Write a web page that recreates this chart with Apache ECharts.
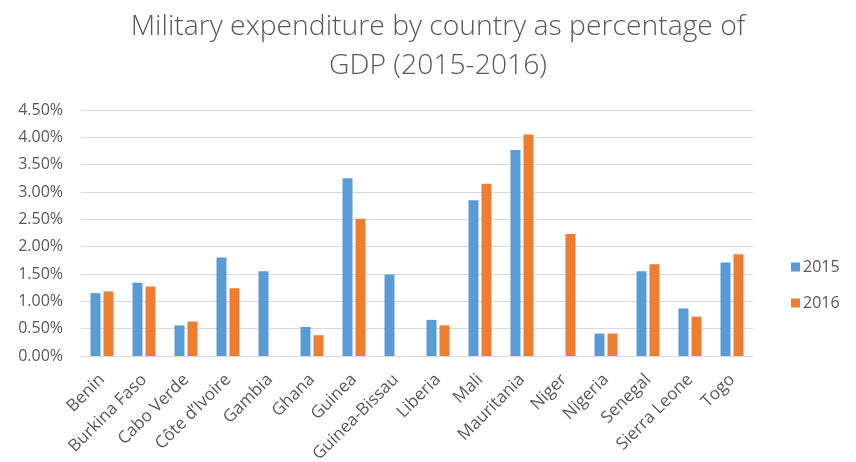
<!DOCTYPE html>
<html>
<head>
<meta charset="utf-8">
<script src="https://cdn.jsdelivr.net/npm/echarts@6/dist/echarts.min.js"></script>
<style>html,body{margin:0;padding:0;background:#fff}#c{width:856px;height:462px}</style>
</head>
<body>
<div id="c"></div>
<script>
const categories = ["Benin","Burkina Faso","Cabo Verde","Côte d’Ivoire","Gambia","Ghana","Guinea","Guinea-Bissau","Liberia","Mali","Mauritania","Niger","Nigeria","Senegal","Sierra Leone","Togo"];
const values2015 = [1.15,1.34,0.56,1.80,1.55,0.53,3.25,1.49,0.66,2.85,3.77,null,0.41,1.55,0.87,1.71];
const values2016 = [1.18,1.27,0.63,1.24,null,0.38,2.51,null,0.56,3.15,4.05,2.23,0.41,1.68,0.72,1.86];
const yTicks = [0,0.5,1,1.5,2,2.5,3,3.5,4,4.5];

const chart = echarts.init(document.getElementById('c'));
const txt = '#595959';
chart.setOption({
  animation:false,
  title:{
    text:'Military expenditure by country as percentage of\nGDP (2015-2016)',
    left:433, textAlign:'center', top:2,
    textStyle:{fontFamily:'Open Sans', fontWeight:300, fontSize:28.3, color:txt, lineHeight:39}
  },
  legend:{
    orient:'vertical', left:786, top:254, itemWidth:9, itemHeight:9, itemGap:20,
    icon:'rect',
    textStyle:{fontFamily:'Open Sans', fontSize:16, color:txt, padding:[0,0,0,-2]},
    data:['2015','2016']
  },
  grid:{left:81, right:103, top:110, bottom:106, containLabel:false, outerBoundsMode:'none'},
  xAxis:{
    type:'category', data:categories,
    axisLine:{lineStyle:{color:'#d9d9d9', width:1}},
    axisTick:{show:false},
    axisLabel:{rotate:45, interval:0, fontFamily:'Open Sans', fontSize:17, color:txt, margin:21}
  },
  yAxis:{
    type:'value', min:0, max:4.5, interval:0.5,
    axisLine:{show:false}, axisTick:{show:false},
    splitLine:{lineStyle:{color:'#d9d9d9', width:1}},
    axisLabel:{formatter:v=>v.toFixed(2)+'%', fontFamily:'Open Sans', fontSize:16, color:txt, margin:18}
  },
  series:[
    {name:'2015', type:'bar', data:values2015, barWidth:10, barGap:'30%', itemStyle:{color:'#5B9BD5'}},
    {name:'2016', type:'bar', data:values2016, barWidth:10, itemStyle:{color:'#ED7D31'}}
  ]
});
</script>
</body>
</html>
